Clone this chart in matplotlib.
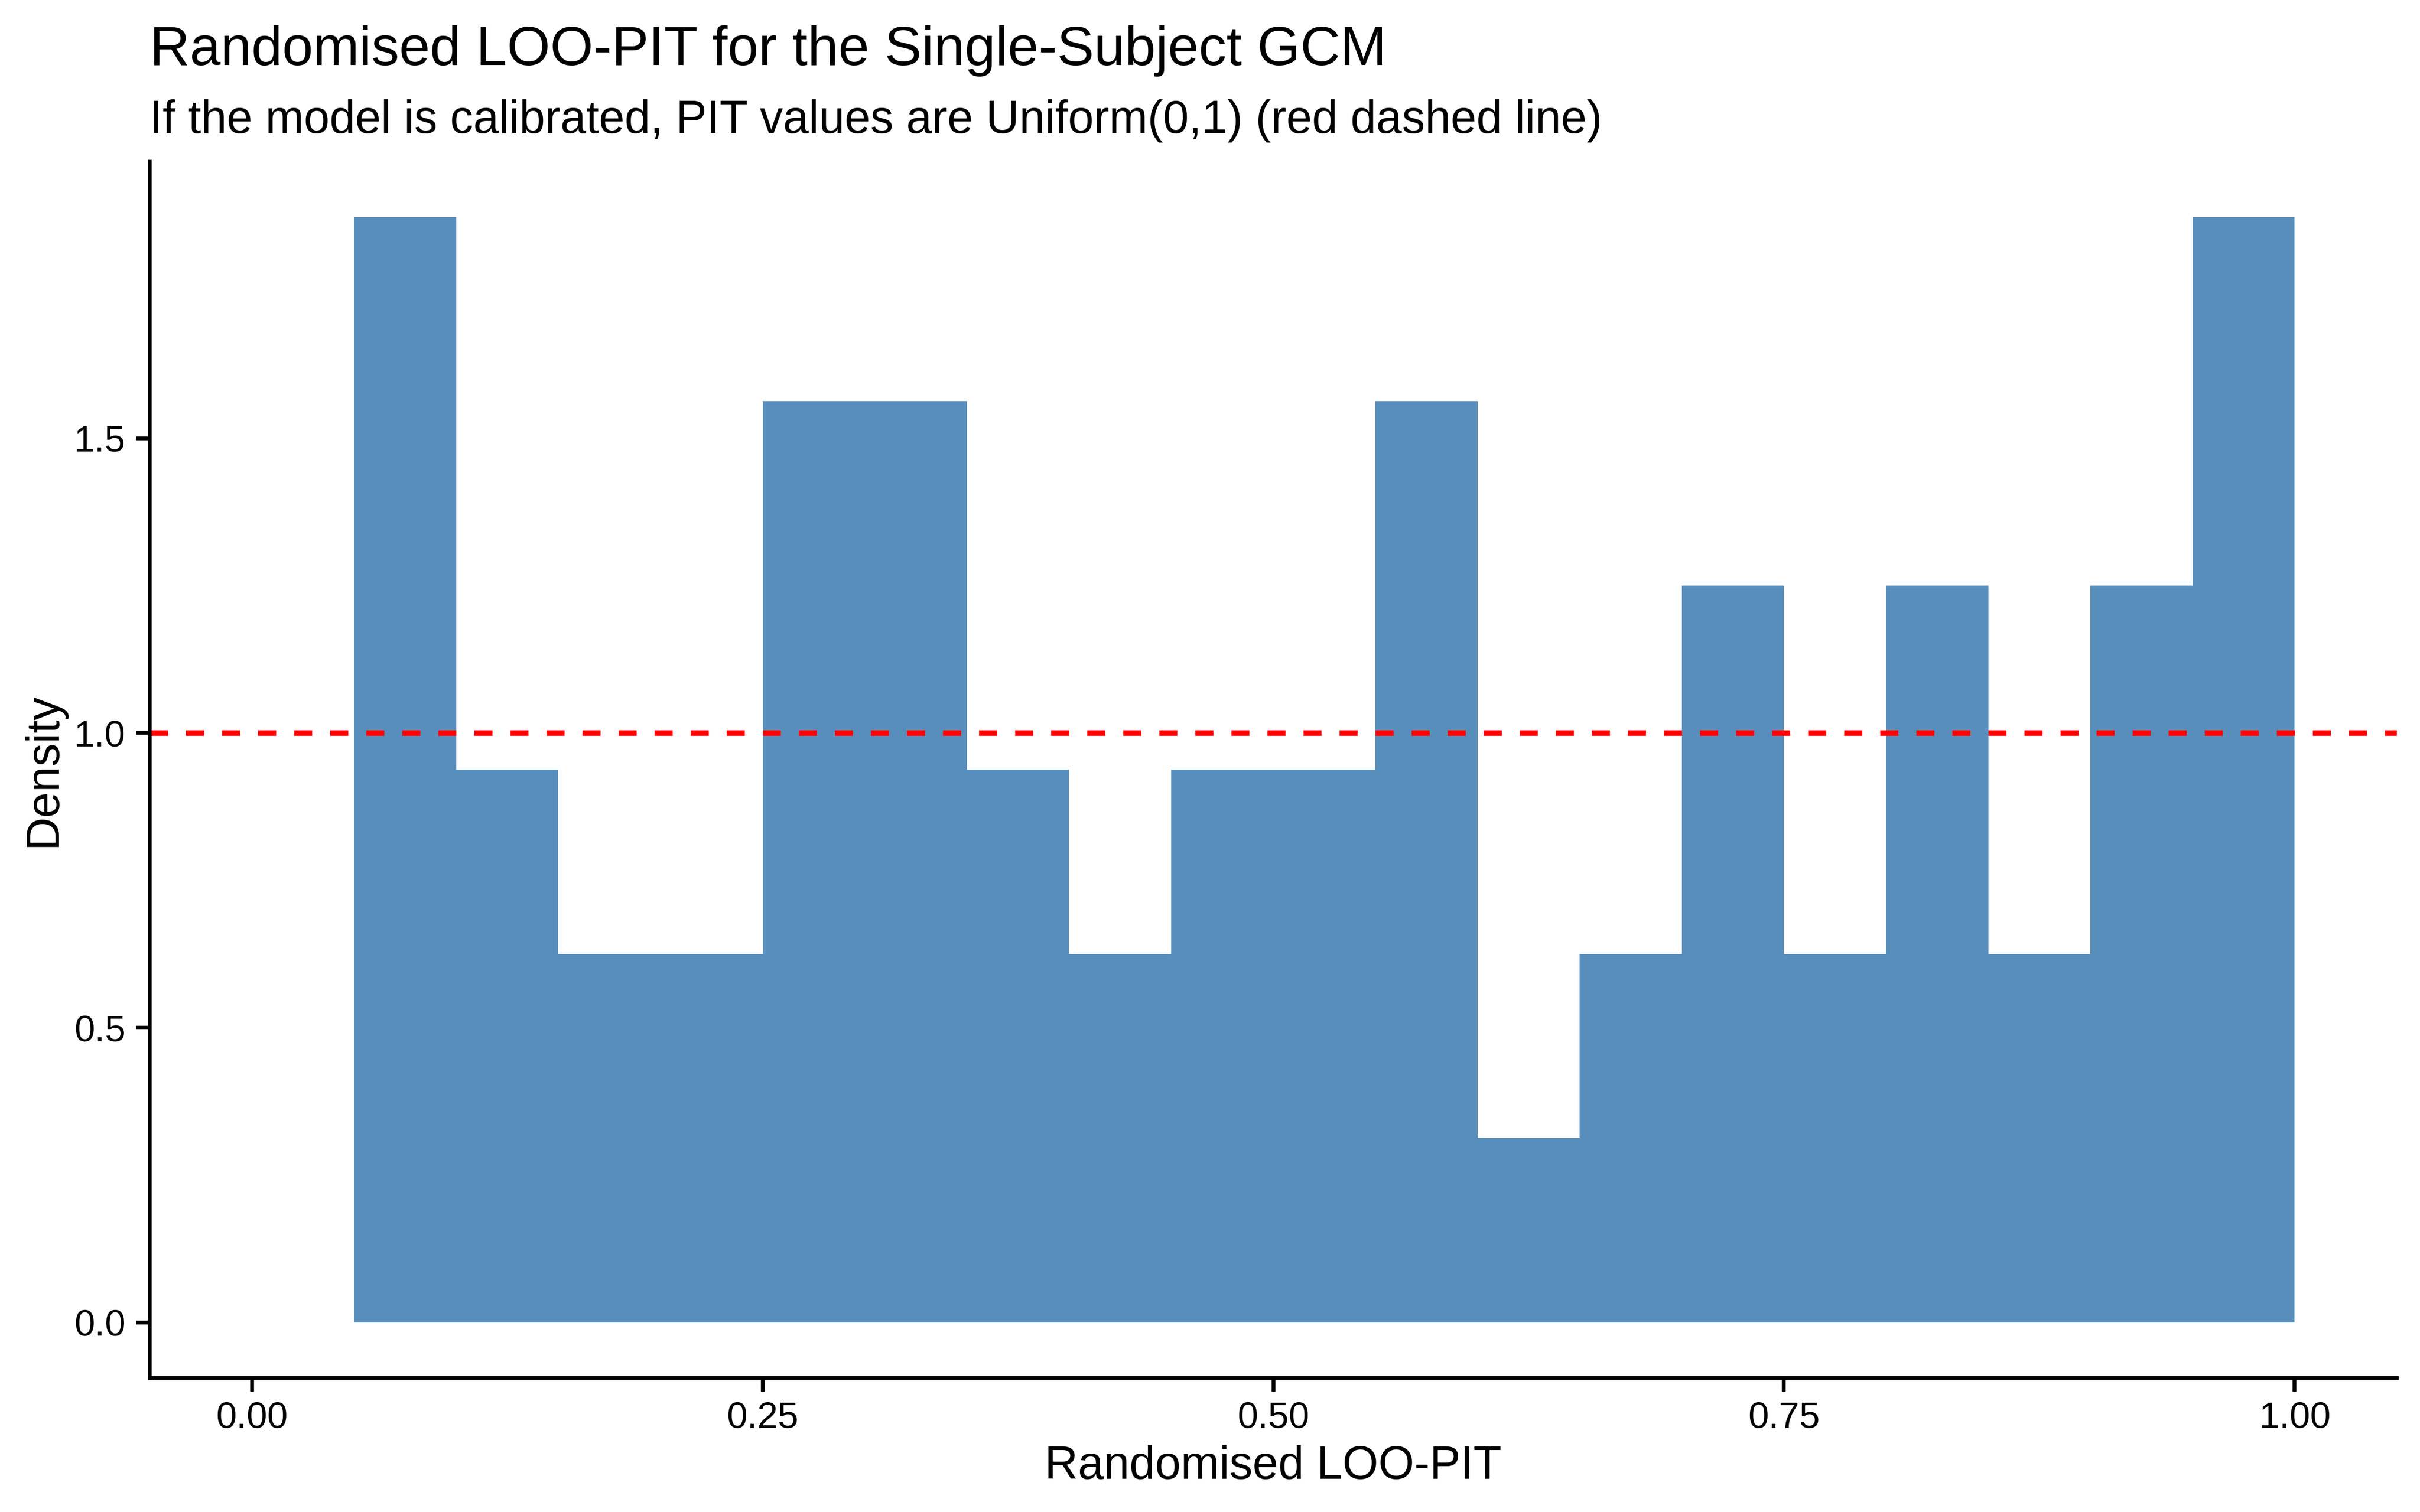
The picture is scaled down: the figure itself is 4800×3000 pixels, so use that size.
import numpy as np
import matplotlib
matplotlib.use("Agg")
import matplotlib.pyplot as plt

plt.rcParams["font.family"] = ["Liberation Sans", "DejaVu Sans"]

# Histogram of randomised LOO-PIT values (bin width 0.05, 64 observations)
bin_left = [0.05, 0.10, 0.15, 0.20, 0.25, 0.30, 0.35, 0.40, 0.45, 0.50,
            0.55, 0.60, 0.65, 0.70, 0.75, 0.80, 0.85, 0.90, 0.95]
counts = [6, 3, 2, 2, 5, 5, 3, 2, 3, 3, 5, 1, 2, 4, 2, 4, 2, 4, 6]
bin_width = 0.05

x_ticks = [0.0, 0.25, 0.5, 0.75, 1.0]
y_ticks = [0.0, 0.5, 1.0, 1.5]

n_obs = sum(counts)
density = [c / (n_obs * bin_width) for c in counts]

fig = plt.figure(figsize=(8, 5), dpi=600)
ax = fig.add_axes([0.0619, 0.0888, 0.9904 - 0.0619, 0.8929 - 0.0888])

ax.bar(bin_left, density, width=bin_width, align="edge",
       color="steelblue", alpha=0.9, linewidth=0)
ax.axhline(1.0, color="red", linewidth=1.3, linestyle=(0, (3.3, 3.3)))

ax.set_xlim(-0.05, 1.05)
ax.set_ylim(-0.09375, 1.96875)
ax.set_xticks(x_ticks)
ax.set_xticklabels([f"{t:.2f}" for t in x_ticks])
ax.set_yticks(y_ticks)
ax.set_yticklabels([f"{t:.1f}" for t in y_ticks])

for side in ["top", "right"]:
    ax.spines[side].set_visible(False)
for side in ["left", "bottom"]:
    ax.spines[side].set_linewidth(0.9)
    ax.spines[side].set_capstyle("projecting")

ax.tick_params(axis="both", length=3.2, width=0.9, color="black",
               labelsize=8.8, labelcolor="black")
ax.tick_params(axis="x", pad=2.4)
ax.tick_params(axis="y", pad=2.6)

fig.text(0.5 * (0.0619 + 0.9904), 0.022, "Randomised LOO-PIT",
         ha="center", va="baseline", fontsize=11)
fig.text(0.018, 0.5 * (0.0888 + 0.8929), "Density", rotation=90,
         ha="center", va="center", fontsize=11)

fig.text(0.0619, 0.957, "Randomised LOO-PIT for the Single-Subject GCM",
         ha="left", va="baseline", fontsize=13.2)
fig.text(0.0619, 0.912,
         "If the model is calibrated, PIT values are Uniform(0,1) (red dashed line)",
         ha="left", va="baseline", fontsize=11)

fig.savefig("out.png", dpi=600, facecolor="white")
plt.close(fig)
